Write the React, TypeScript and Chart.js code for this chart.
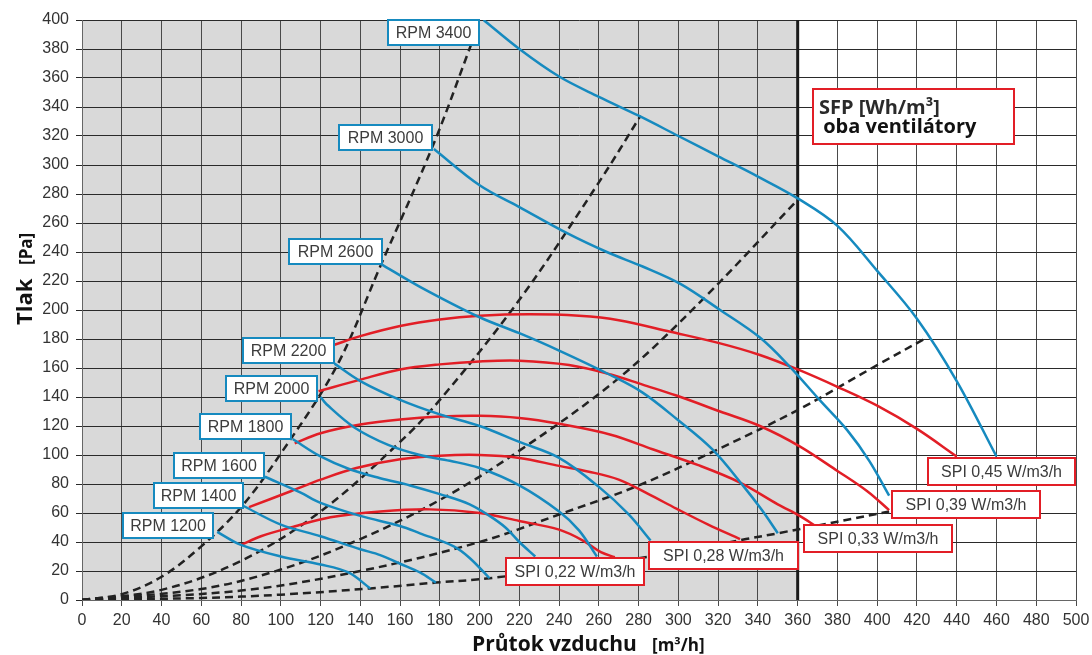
import React, { useEffect, useRef } from 'react';
import { Chart, registerables } from 'chart.js';

Chart.register(...registerables);

// ---------- axes ----------
const X_MIN = 0;
const X_MAX = 500;
const X_STEP = 20;
const Y_MIN = 0;
const Y_MAX = 400;
const Y_STEP = 20;
const SHADED_LIMIT = 360; // flow limit (thick line / grey zone)

// ---------- fan curves (RPM), [flow m3/h, pressure Pa] ----------
const rpmNames = ['RPM 1200', 'RPM 1400', 'RPM 1600', 'RPM 1800', 'RPM 2000', 'RPM 2200', 'RPM 2600', 'RPM 3000', 'RPM 3400'];
const rpm1200 = [[68, 47], [80, 38], [100, 30], [120, 24.5], [134, 19], [145, 8]];
const rpm1400 = [[81, 65], [100, 52], [120, 44], [140, 35], [150, 31], [160, 25], [170, 19], [178, 12]];
const rpm1600 = [[92, 85], [110, 74], [120, 67], [140, 58], [160, 51], [170, 46], [187, 37], [195, 29], [205, 15]];
const rpm1800 = [[106, 111], [120, 99], [135, 90], [150, 84], [165, 79], [180, 73], [195, 66], [205, 58], [213, 50], [220, 40], [228, 30]];
const rpm2000 = [[120, 140], [123, 135], [137, 119], [154, 107], [170, 100], [185, 96], [200, 91], [220, 79], [240, 61], [250, 48], [259, 30]];
const rpm2200 = [[127, 163], [140, 151], [160, 138], [180, 128], [200, 120], [220, 109], [240, 98], [260, 78], [275, 59], [286, 41]];
const rpm2600 = [[150, 232], [170, 216], [200, 195], [220, 184], [240, 172], [266, 155], [282, 143], [299, 125], [317, 104], [333, 78], [342, 62], [350, 46]];
const rpm3000 = [[177, 311], [200, 286], [220, 271], [244, 253], [264, 240], [282, 230], [301, 218], [321, 200], [341, 181], [356, 161], [371, 138], [385, 117], [396, 96], [406, 72]];
const rpm3400 = [[202, 400], [220, 380], [240, 361], [260, 347], [280, 334], [300, 320], [320, 306], [340, 292], [360, 277], [380, 258], [400, 227], [420, 194], [440, 151], [460, 99]];
const rpmSeries = [rpm1200, rpm1400, rpm1600, rpm1800, rpm2000, rpm2200, rpm2600, rpm3000, rpm3400];

// ---------- SPI curves ----------
const spiNames = ['SPI 0,22 W/m3/h', 'SPI 0,28 W/m3/h', 'SPI 0,33 W/m3/h', 'SPI 0,39 W/m3/h', 'SPI 0,45 W/m3/h'];
const spi022 = [[80, 38], [90, 44], [105, 50], [125, 57], [150, 61], [175, 62.5], [200, 60], [220, 54.5], [240, 48.5], [252, 41], [261, 33], [268, 29.5]];
const spi028 = [[84, 64], [105, 75], [120, 83], [138, 91], [160, 97], [180, 99.5], [200, 100], [220, 98], [240, 92.5], [255, 88.5], [270, 83], [285, 73], [299, 63], [315, 52], [331, 42]];
const spi033 = [[107, 108], [120, 115], [140, 121], [160, 124.5], [180, 126.5], [200, 127], [220, 125.5], [240, 121.5], [266, 114], [287, 104], [310, 93], [331, 81], [350, 66], [361, 58], [369, 51]];
const spi039 = [[119, 144], [140, 152], [160, 159], [180, 162.5], [200, 164.5], [220, 165], [245, 162], [266, 155.5], [282, 148.5], [299, 141], [321, 130], [341, 120], [361, 106], [380, 89], [395, 75], [406, 62]];
const spi045 = [[127, 176], [140, 182], [160, 189], [180, 193.5], [200, 196], [225, 197], [250, 196], [270, 193], [296, 185], [321, 177], [341, 169], [360, 159], [380, 147], [400, 134], [420, 118], [440, 99]];
const spiSeries = [spi022, spi028, spi033, spi039, spi045];

// ---------- system (duct) curves, dashed ----------
const sys1 = [[0, 0], [20, 4], [40, 16], [60, 37], [80, 64], [100, 101], [128, 161], [150, 230], [177, 315], [196, 384]];
const sys2 = [[0, 0], [40, 7], [80, 27], [120, 61], [160, 109], [180, 138], [220, 207], [260, 288], [281, 334]];
const sys3 = [[0, 0], [60, 7.6], [100, 21], [140, 42], [180, 69], [220, 103], [270, 153], [312, 207], [360, 276]];
const sys4 = [[0, 0], [80, 6.5], [140, 20], [200, 40], [240, 59], [280, 79], [320, 104], [360, 131], [400, 162], [425, 181]];
const sys5 = [[0, 0], [60, 1.4], [100, 3.7], [145, 8], [178, 12], [205, 15], [260, 25], [300, 33], [334, 42], [350, 46], [406, 61]];
const systemSeries = [sys1, sys2, sys3, sys4, sys5];

// ---------- label boxes (top-left corner in data units, width/height in px) ----------
const rpmBoxes = [
  { x: 20, y: 60.8, w: 92 },
  { x: 35.6, y: 81.2, w: 91 },
  { x: 45.6, y: 102.2, w: 92 },
  { x: 59, y: 129.1, w: 93 },
  { x: 71.9, y: 155.5, w: 93 },
  { x: 80.3, y: 181.5, w: 93 },
  { x: 103.8, y: 249.8, w: 95 },
  { x: 128.9, y: 328.6, w: 95 },
  { x: 153.6, y: 400.8, w: 93 },
];
const spiBoxes = [
  { x: 212.8, y: 29.8, w: 140 },
  { x: 284.9, y: 40.6, w: 151 },
  { x: 362.8, y: 52.1, w: 150 },
  { x: 406.8, y: 75.7, w: 150 },
  { x: 424.9, y: 98.5, w: 149 },
];
const sfpLines = ['SFP [Wh/m³]', ' oba ventilátory'];
const sfpBox = { x: 367, y: 353.2, w: 203, h: 57 };

const BLUE = '#168abf';
const RED = '#e21e26';

const toPts = (arr: number[][]) => arr.map(([x, y]) => ({ x, y }));

const overlayPlugin = {
  id: 'overlay',
  beforeDraw(chart: any) {
    const { ctx, chartArea, scales } = chart;
    const xs = scales.x;
    ctx.save();
    ctx.fillStyle = '#ffffff';
    ctx.fillRect(0, 0, chart.width, chart.height);
    const x0 = xs.getPixelForValue(X_MIN);
    const x1 = xs.getPixelForValue(SHADED_LIMIT);
    ctx.fillStyle = '#d9d9d9';
    ctx.fillRect(x0, chartArea.top, x1 - x0, chartArea.bottom - chartArea.top);
    ctx.restore();
  },
  beforeDatasetsDraw(chart: any) {
    const { ctx, chartArea, scales } = chart;
    const px = scales.x.getPixelForValue(SHADED_LIMIT);
    ctx.save();
    ctx.strokeStyle = '#1a1a1a';
    ctx.lineWidth = 3;
    ctx.beginPath();
    ctx.moveTo(px, chartArea.top);
    ctx.lineTo(px, chartArea.bottom);
    ctx.stroke();
    ctx.restore();
  },
  afterDatasetsDraw(chart: any) {
    const { ctx, scales } = chart;
    const xs = scales.x;
    const ys = scales.y;
    const box = (left: number, top: number, w: number, h: number, text: string, border: string) => {
      ctx.fillStyle = '#ffffff';
      ctx.fillRect(left, top, w, h);
      ctx.lineWidth = 2;
      ctx.strokeStyle = border;
      ctx.strokeRect(left + 1, top + 1, w - 2, h - 2);
      ctx.fillStyle = '#3c3c3c';
      ctx.font = '16px "Liberation Sans", Arial, sans-serif';
      ctx.textAlign = 'center';
      ctx.textBaseline = 'middle';
      ctx.fillText(text, left + w / 2, top + h / 2 + 1);
    };
    ctx.save();
    rpmBoxes.forEach((b, i) => {
      box(Math.round(xs.getPixelForValue(b.x)), Math.round(ys.getPixelForValue(b.y)), b.w, 27, rpmNames[i], BLUE);
    });
    spiBoxes.forEach((b, i) => {
      box(Math.round(xs.getPixelForValue(b.x)), Math.round(ys.getPixelForValue(b.y)), b.w, 29, spiNames[i], RED);
    });
    // SFP box
    const sl = Math.round(xs.getPixelForValue(sfpBox.x));
    const st = Math.round(ys.getPixelForValue(sfpBox.y));
    ctx.fillStyle = '#ffffff';
    ctx.fillRect(sl, st, sfpBox.w, sfpBox.h);
    ctx.lineWidth = 2;
    ctx.strokeStyle = RED;
    ctx.strokeRect(sl + 1, st + 1, sfpBox.w - 2, sfpBox.h - 2);
    ctx.textAlign = 'left';
    ctx.textBaseline = 'alphabetic';
    ctx.font = 'bold 20px "Open Sans", sans-serif';
    ctx.fillStyle = '#2a2a2a';
    ctx.fillText(sfpLines[0], sl + 7, st + 26);
    ctx.fillStyle = '#111111';
    ctx.fillText(sfpLines[1], sl + 6, st + 45);
    ctx.restore();
  },
  afterDraw(chart: any) {
    const { ctx, chartArea } = chart;
    ctx.save();
    ctx.fillStyle = '#111111';
    ctx.textBaseline = 'alphabetic';
    ctx.textAlign = 'left';
    // y title (rotated)
    ctx.save();
    ctx.translate(chartArea.left - 50, chartArea.top + 305);
    ctx.rotate(-Math.PI / 2);
    ctx.font = 'bold 22px "Open Sans", sans-serif';
    ctx.fillText('Tlak', 0, 0);
    ctx.font = 'bold 17px "Open Sans", sans-serif';
    ctx.fillText('[Pa]', 60, 0);
    ctx.restore();
    // x title
    ctx.font = 'bold 21px "Open Sans", sans-serif';
    ctx.fillText('Průtok vzduchu', chartArea.left + 390, chartArea.bottom + 51);
    ctx.font = 'bold 17px "Open Sans", sans-serif';
    ctx.fillText('[m³/h]', chartArea.left + 570, chartArea.bottom + 51);
    ctx.restore();
  },
};

export default function App() {
  const canvasRef = useRef<HTMLCanvasElement | null>(null);

  useEffect(() => {
    if (!canvasRef.current) return;
    const datasets: any[] = [];
    const lineBase = { pointRadius: 0, showLine: true, tension: 0.35, borderWidth: 2.5 };
    rpmSeries.forEach((s, i) => {
      datasets.push({ ...lineBase, label: rpmNames[i], data: toPts(s), borderColor: BLUE, order: 1 });
    });
    spiSeries.forEach((s, i) => {
      datasets.push({ ...lineBase, label: spiNames[i], data: toPts(s), borderColor: RED, order: 2 });
    });
    systemSeries.forEach((s, i) => {
      datasets.push({
        ...lineBase,
        label: 'system ' + (i + 1),
        data: toPts(s),
        borderColor: '#222222',
        borderDash: [8, 5],
        order: 3,
      });
    });

    const tickFont = { size: 16, family: '"Liberation Sans", Arial, sans-serif' };
    const chart = new Chart(canvasRef.current, {
      type: 'scatter',
      data: { datasets },
      plugins: [overlayPlugin],
      options: {
        animation: false,
        responsive: false,
        maintainAspectRatio: false,
        layout: { padding: { top: 20, right: 16, left: 0, bottom: 0 } },
        plugins: { legend: { display: false }, tooltip: { enabled: false } },
        scales: {
          x: {
            type: 'linear',
            min: X_MIN,
            max: X_MAX,
            ticks: { stepSize: X_STEP, font: tickFont, color: '#333333', padding: 5, maxRotation: 0, autoSkip: false },
            grid: { color: '#4a4a4a', lineWidth: 1, tickLength: 6 },
            border: { display: true, color: '#666666', width: 1 },
            afterFit: (scale: any) => {
              scale.height = 55;
              scale.paddingLeft = 0;
              scale.paddingRight = 0;
            },
          },
          y: {
            type: 'linear',
            min: Y_MIN,
            max: Y_MAX,
            ticks: { stepSize: Y_STEP, font: tickFont, color: '#333333', padding: 7, autoSkip: false },
            grid: { color: '#2a2a2a', lineWidth: 1, tickLength: 6 },
            border: { display: true, color: '#666666', width: 1 },
            afterFit: (scale: any) => {
              scale.width = 82;
              scale.paddingTop = 0;
              scale.paddingBottom = 0;
            },
          },
        },
      } as any,
    });
    return () => chart.destroy();
  }, []);

  return (
    <div style={{ position: 'absolute', left: 0, top: 0, width: 1092, height: 655, background: '#fff' }}>
      <canvas ref={canvasRef} width={1092} height={655} style={{ width: 1092, height: 655, display: 'block' }} />
    </div>
  );
}
